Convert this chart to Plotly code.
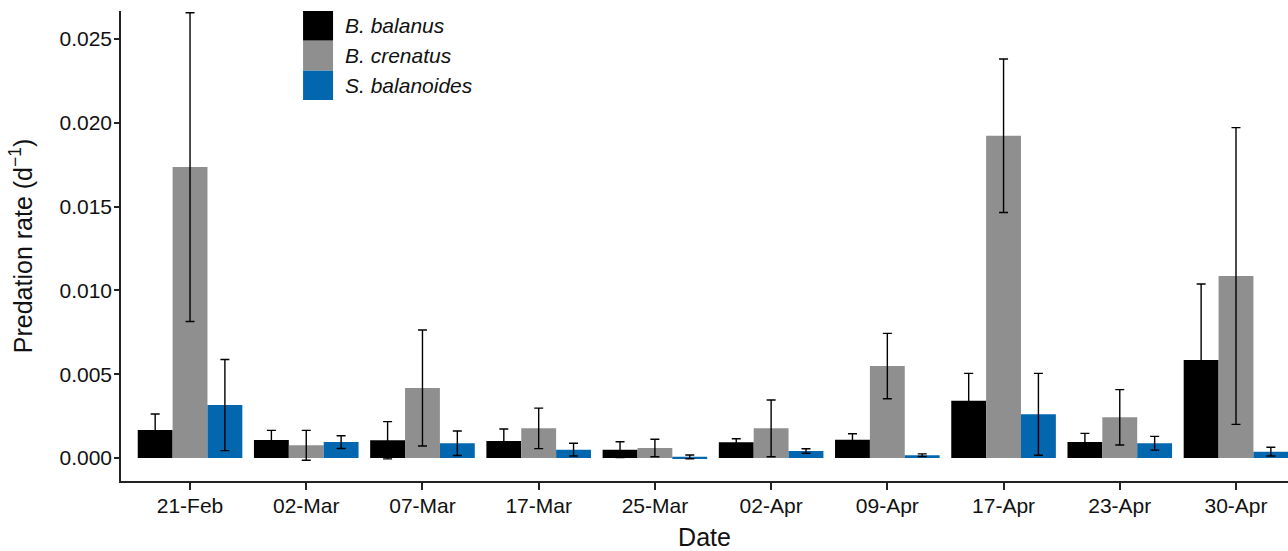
import plotly.graph_objects as go

dates = ['21-Feb', '02-Mar', '07-Mar', '17-Mar', '25-Mar', '02-Apr', '09-Apr', '17-Apr', '23-Apr', '30-Apr']

balanus = [0.00167, 0.00107, 0.00106, 0.00101, 0.00050, 0.00094, 0.00109, 0.00342, 0.00095, 0.00585]
balanus_err = [0.00096, 0.00058, 0.00111, 0.00072, 0.00047, 0.00021, 0.00036, 0.00163, 0.00052, 0.00453]

crenatus = [0.01736, 0.00076, 0.00418, 0.00177, 0.00060, 0.00177, 0.00549, 0.01923, 0.00243, 0.01086]
crenatus_err = [0.00921, 0.00089, 0.00346, 0.00121, 0.00052, 0.00169, 0.00195, 0.00458, 0.00165, 0.00885]

balanoides = [0.00316, 0.00095, 0.00088, 0.00050, 0.00007, 0.00042, 0.00017, 0.00261, 0.00088, 0.00038]
balanoides_err = [0.00272, 0.00038, 0.00073, 0.00038, 0.00011, 0.00013, 0.00008, 0.00244, 0.00041, 0.00026]

series_names = ['B. balanus', 'B. crenatus', 'S. balanoides']
series_colors = ['#000000', '#8F8F8F', '#0367B0']

yticks = [0.000, 0.005, 0.010, 0.015, 0.020, 0.025]

FONT = 'Liberation Sans, Arial, Helvetica, sans-serif'

fig = go.Figure()
for name, vals, errs, col in zip(series_names,
                                  [balanus, crenatus, balanoides],
                                  [balanus_err, crenatus_err, balanoides_err],
                                  series_colors):
    fig.add_trace(go.Bar(
        x=list(range(len(dates))), y=vals, name=name,
        marker=dict(color=col, line=dict(width=0)),
        error_y=dict(type='data', array=errs, visible=True,
                     color='#000000', thickness=1.4, width=4.5),
        showlegend=False,
    ))

# manual legend (swatches + italic labels) in paper coordinates
sw_x0, sw_x1 = 0.156, 0.1817
sw_y = [1.0, 0.9368, 0.873, 0.8106]
for i, (name, col) in enumerate(zip(series_names, series_colors)):
    fig.add_shape(type='rect', xref='paper', yref='paper',
                  x0=sw_x0, x1=sw_x1, y0=sw_y[i + 1], y1=sw_y[i],
                  fillcolor=col, line=dict(width=0))
    fig.add_annotation(xref='paper', yref='paper', x=0.1903,
                       y=(sw_y[i] + sw_y[i + 1]) / 2,
                       text='<i>' + name + '</i>', showarrow=False,
                       xanchor='left', yanchor='middle',
                       font=dict(family=FONT, size=21, color='#111111'))

fig.update_layout(
    width=1288, height=551,
    margin=dict(l=121, r=0, t=11, b=70),
    paper_bgcolor='white', plot_bgcolor='white',
    barmode='group', bargap=0.1, bargroupgap=0,
    font=dict(family=FONT, size=21, color='#111111'),
    xaxis=dict(
        range=[-0.594, 9.4475], automargin=False,
        tickmode='array', tickvals=list(range(len(dates))), ticktext=dates,
        showline=True, linecolor='#222222', linewidth=1.5,
        ticks='outside', ticklen=7, tickwidth=1.5, tickcolor='#222222',
        ticklabelstandoff=-2,
        showgrid=False, zeroline=False,
        tickfont=dict(size=21),
        title=dict(text='Date', font=dict(size=25), standoff=13),
    ),
    yaxis=dict(
        range=[-0.00137, 0.02667], automargin=False,
        tickmode='array', tickvals=yticks,
        ticktext=['%.3f' % v for v in yticks],
        showline=True, linecolor='#222222', linewidth=1.5,
        ticks='outside', ticklen=5, tickwidth=1.5, tickcolor='#222222',
        ticklabelstandoff=-2,
        showgrid=False, zeroline=False,
        tickfont=dict(size=21),
        title=dict(text='Predation rate (d<sup>\u22121</sup>)', font=dict(size=25), standoff=20),
    ),
)

fig.write_html('out.html', config={'displayModeBar': False},
               post_script="document.body.style.margin='0';document.body.style.overflow='hidden';")
